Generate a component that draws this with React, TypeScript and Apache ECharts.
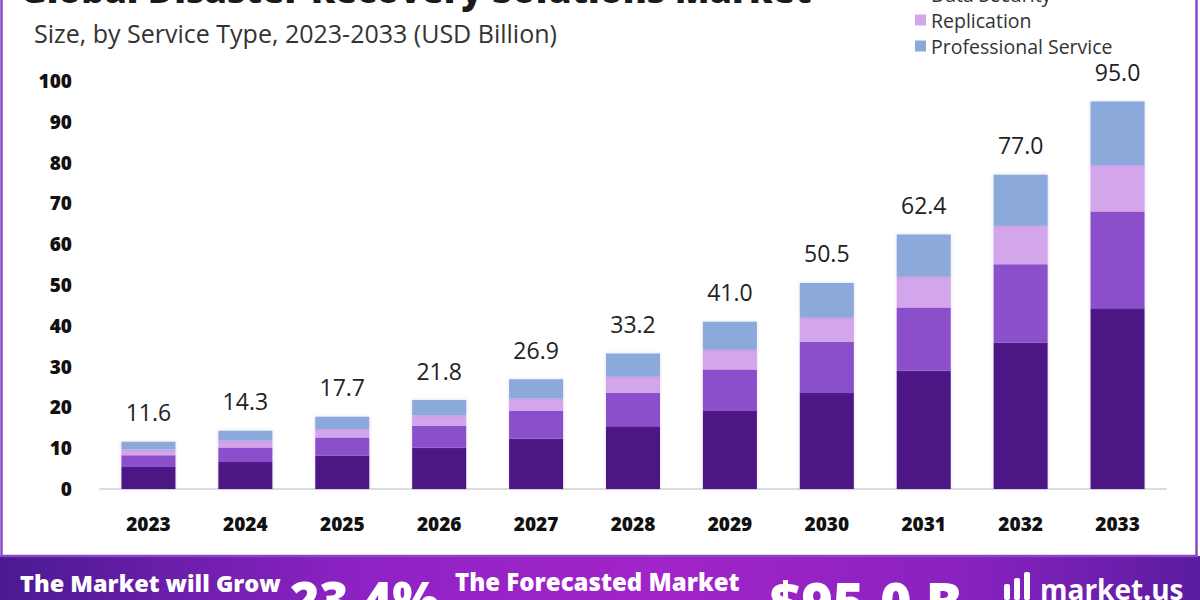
import React, { useEffect, useRef } from "react";
import * as echarts from "echarts";

const years = ["2023", "2024", "2025", "2026", "2027", "2028", "2029", "2030", "2031", "2032", "2033"];
const backupRecovery = [5.4, 6.6, 8.2, 10.1, 12.3, 15.4, 19.1, 23.5, 29.0, 35.9, 44.3];
const dataSecurity = [2.9, 3.6, 4.4, 5.4, 6.8, 8.2, 10.2, 12.5, 15.5, 19.2, 23.7];
const replication = [1.4, 1.7, 2.1, 2.6, 3.1, 3.9, 4.8, 6.0, 7.5, 9.4, 11.4];
const professionalService = [1.9, 2.4, 3.0, 3.7, 4.7, 5.7, 6.9, 8.5, 10.4, 12.5, 15.6];
const totals = [11.6, 14.3, 17.7, 21.8, 26.9, 33.2, 41.0, 50.5, 62.4, 77.0, 95.0];
const seriesNames = ["Backup & Recovery", "Data Security", "Replication", "Professional Service"];
const colors = ["#4e1785", "#8c4fcb", "#d3a5eb", "#8ca9dc"];

const FONT = "'Open Sans', 'Noto Sans', sans-serif";

export default function App() {
  const ref = useRef<HTMLDivElement>(null);
  useEffect(() => {
    if (!ref.current) return;
    const chart = echarts.init(ref.current, null, { renderer: "svg" });
    const data = [backupRecovery, dataSecurity, replication, professionalService];
    const series: any[] = data.map((d, i) => ({
      name: seriesNames[i],
      type: "bar",
      stack: "total",
      data: d,
      barWidth: 54,
      itemStyle: { color: colors[i], shadowColor: "rgba(120,80,180,0.25)", shadowBlur: 3 },
      label:
        i === 3
          ? {
              show: true,
              position: "top",
              distance: 18,
              color: "#222",
              fontFamily: FONT,
              fontSize: 23,
              formatter: (p: any) => totals[p.dataIndex].toFixed(1),
            }
          : { show: false },
    }));
    chart.setOption({
      animation: false,
      backgroundColor: "#ffffff",
      grid: { left: 100, right: 34, top: 81, bottom: 111 },
      legend: {
        orient: "vertical",
        left: 910,
        top: -47,
        itemWidth: 11,
        itemHeight: 11,
        itemGap: 6,
        icon: "rect",
        textStyle: { fontFamily: FONT, fontSize: 19.5, color: "#333" },
        data: seriesNames,
      },
      xAxis: {
        type: "category",
        data: years,
        axisLine: { show: true, lineStyle: { color: "#cfcfd6", width: 1.5 } },
        axisTick: { show: false },
        axisLabel: { margin: 25, color: "#111", fontFamily: FONT, fontWeight: 800, fontSize: 19 },
      },
      yAxis: {
        type: "value",
        min: 0,
        max: 100,
        interval: 10,
        splitLine: { show: false },
        axisLine: { show: false },
        axisTick: { show: false },
        axisLabel: { margin: 28, color: "#111", fontFamily: FONT, fontWeight: 800, fontSize: 19 },
      },
      series,
      graphic: [
        {
          type: "rect",
          shape: { x: 1.5, y: -10, width: 1195, height: 566 },
          style: { fill: "none", stroke: "#8a48c2", lineWidth: 2.5 },
          z: 100,
        },
        {
          type: "rect",
          shape: { x: 0, y: 556, width: 1200, height: 44 },
          style: {
            fill: new echarts.graphic.LinearGradient(0, 0, 1, 0, [
              { offset: 0, color: "#4a1a92" },
              { offset: 0.3, color: "#8e22c4" },
              { offset: 0.55, color: "#a224c8" },
              { offset: 0.8, color: "#8a22c0" },
              { offset: 1, color: "#5a1ca0" },
            ]),
          },
          z: 90,
        },
        {
          type: "text",
          x: 20,
          y: -29,
          style: { text: "Global Disaster Recovery Solutions Market", fontFamily: FONT, fontWeight: 800, fontSize: 36, fill: "#1a1a1a" },
          z: 95,
        },
        {
          type: "text",
          x: 34,
          y: 20,
          style: { text: "Size, by Service Type, 2023-2033 (USD Billion)", fontFamily: FONT, fontSize: 25, fill: "#333" },
          z: 95,
        },
        {
          type: "text",
          x: 20,
          y: 571,
          style: { text: "The Market will Grow", fontFamily: FONT, fontWeight: 800, fontSize: 23.5, fill: "#fff" },
          z: 95,
        },
        {
          type: "text",
          x: 290,
          y: 574,
          style: { text: "23.4%", fontFamily: FONT, fontWeight: 800, fontSize: 50, fill: "#fff" },
          z: 95,
        },
        {
          type: "text",
          x: 455,
          y: 569,
          style: { text: "The Forecasted Market", fontFamily: FONT, fontWeight: 800, fontSize: 24, fill: "#fff" },
          z: 95,
        },
        {
          type: "text",
          x: 770,
          y: 574,
          style: { text: "$95.0 B", fontFamily: FONT, fontWeight: 800, fontSize: 54, fill: "#fff" },
          z: 95,
        },
        {
          type: "rect",
          shape: { x: 1004, y: 584, width: 6, height: 16, r: 2 },
          style: { fill: "#fff" },
          z: 95,
        },
        {
          type: "rect",
          shape: { x: 1014, y: 578, width: 6, height: 22, r: 2 },
          style: { fill: "#fff" },
          z: 95,
        },
        {
          type: "rect",
          shape: { x: 1024, y: 572, width: 6, height: 28, r: 2 },
          style: { fill: "#fff" },
          z: 95,
        },
        {
          type: "text",
          x: 1040,
          y: 575,
          style: { text: "market.us", fontFamily: FONT, fontWeight: 700, fontSize: 28, fill: "#fff" },
          z: 95,
        },
      ],
    });
    return () => chart.dispose();
  }, []);
  return <div ref={ref} style={{ position: "fixed", left: 0, top: 0, width: 1200, height: 600 }} />;
}
